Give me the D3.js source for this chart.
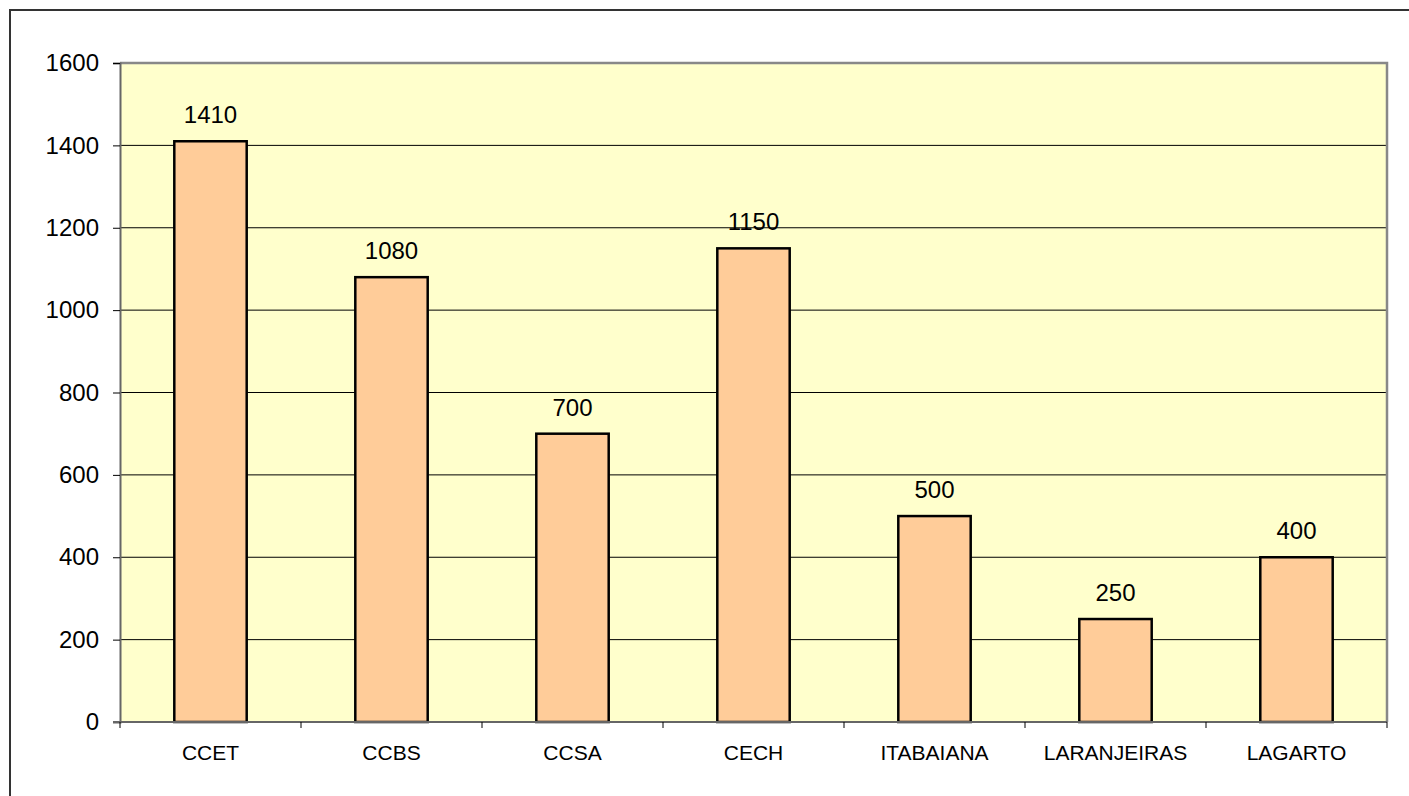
<!DOCTYPE html>
<html>
<head>
  <meta charset="UTF-8">
  <title>Chart</title>
  <script src="https://d3js.org/d3.v7.min.js"></script>
  <style>
    body { margin: 0; background: #fff; }
  </style>
</head>
<body>
  <svg width="1409" height="796"></svg>

  <script>
    const categories = ["CCET", "CCBS", "CCSA", "CECH", "ITABAIANA", "LARANJEIRAS", "LAGARTO"];
    const values = [1410, 1080, 700, 1150, 500, 250, 400];
    const yTicks = [0, 200, 400, 600, 800, 1000, 1200, 1400, 1600];

    const svg = d3.select("svg");
    const mLeft = 120, mRight = 1387, mTop = 63, mBottom = 722;
    const font = "Arial, 'Liberation Sans', sans-serif";

    // outer frame
    svg.append("path")
      .attr("d", "M10,800V10H1412")
      .attr("fill", "none")
      .attr("stroke", "#333")
      .attr("stroke-width", 2);

    const x = d3.scaleBand().domain(categories).range([mLeft, mRight]).paddingInner(0.6).paddingOuter(0.3);
    const xb = d3.scaleBand().domain(categories).range([mLeft, mRight]);
    const y = d3.scaleLinear().domain([0, 1600]).range([mBottom, mTop]);

    // plot background
    svg.append("rect")
      .attr("x", mLeft).attr("y", mTop)
      .attr("width", mRight - mLeft).attr("height", mBottom - mTop)
      .attr("fill", "#ffffcc");

    // gridlines
    svg.append("g")
      .selectAll("line")
      .data(yTicks.filter(d => d > 0 && d < 1600))
      .join("line")
      .attr("x1", mLeft).attr("x2", mRight)
      .attr("y1", d => y(d)).attr("y2", d => y(d))
      .attr("stroke", "#000").attr("stroke-width", 1);

    // plot border (top and right gray)
    svg.append("path")
      .attr("d", `M${mLeft},${mTop}H${mRight}V${mBottom}`)
      .attr("fill", "none")
      .attr("stroke", "#888")
      .attr("stroke-width", 2.5);

    // bars
    svg.append("g")
      .selectAll("rect")
      .data(values)
      .join("rect")
      .attr("x", (d, i) => x(categories[i]))
      .attr("width", x.bandwidth())
      .attr("y", d => y(d))
      .attr("height", d => mBottom - y(d))
      .attr("fill", "#ffcc99")
      .attr("stroke", "#000")
      .attr("stroke-width", 2.5);

    // value labels
    svg.append("g")
      .attr("font-family", font)
      .attr("font-size", 24)
      .attr("text-anchor", "middle")
      .selectAll("text")
      .data(values)
      .join("text")
      .attr("x", (d, i) => x(categories[i]) + x.bandwidth() / 2)
      .attr("y", d => y(d) - 18)
      .text(d => d);

    // y axis
    const yAxis = svg.append("g")
      .attr("transform", `translate(${mLeft},0)`)
      .call(d3.axisLeft(y).tickValues(yTicks).tickFormat(d3.format("d")).tickSize(7).tickPadding(14));
    yAxis.select(".domain").attr("stroke", "#666").attr("stroke-width", 2);
    yAxis.selectAll(".tick line").attr("stroke", "#000");
    yAxis.selectAll("text")
      .attr("font-family", font)
      .attr("font-size", 24)
      .attr("fill", "#000");

    // x axis
    const bounds = categories.map(c => xb(c)).concat([mRight]);
    svg.append("line")
      .attr("x1", mLeft - 7).attr("x2", mRight)
      .attr("y1", mBottom).attr("y2", mBottom)
      .attr("stroke", "#666").attr("stroke-width", 2);
    svg.append("g")
      .selectAll("line")
      .data(bounds)
      .join("line")
      .attr("x1", d => d).attr("x2", d => d)
      .attr("y1", mBottom).attr("y2", mBottom + 6)
      .attr("stroke", "#000").attr("stroke-width", 1);
    svg.append("g")
      .attr("font-family", font)
      .attr("font-size", 21)
      .attr("text-anchor", "middle")
      .selectAll("text")
      .data(categories)
      .join("text")
      .attr("x", d => xb(d) + xb.bandwidth() / 2)
      .attr("y", mBottom + 38)
      .text(d => d);
  </script>
</body>
</html>
